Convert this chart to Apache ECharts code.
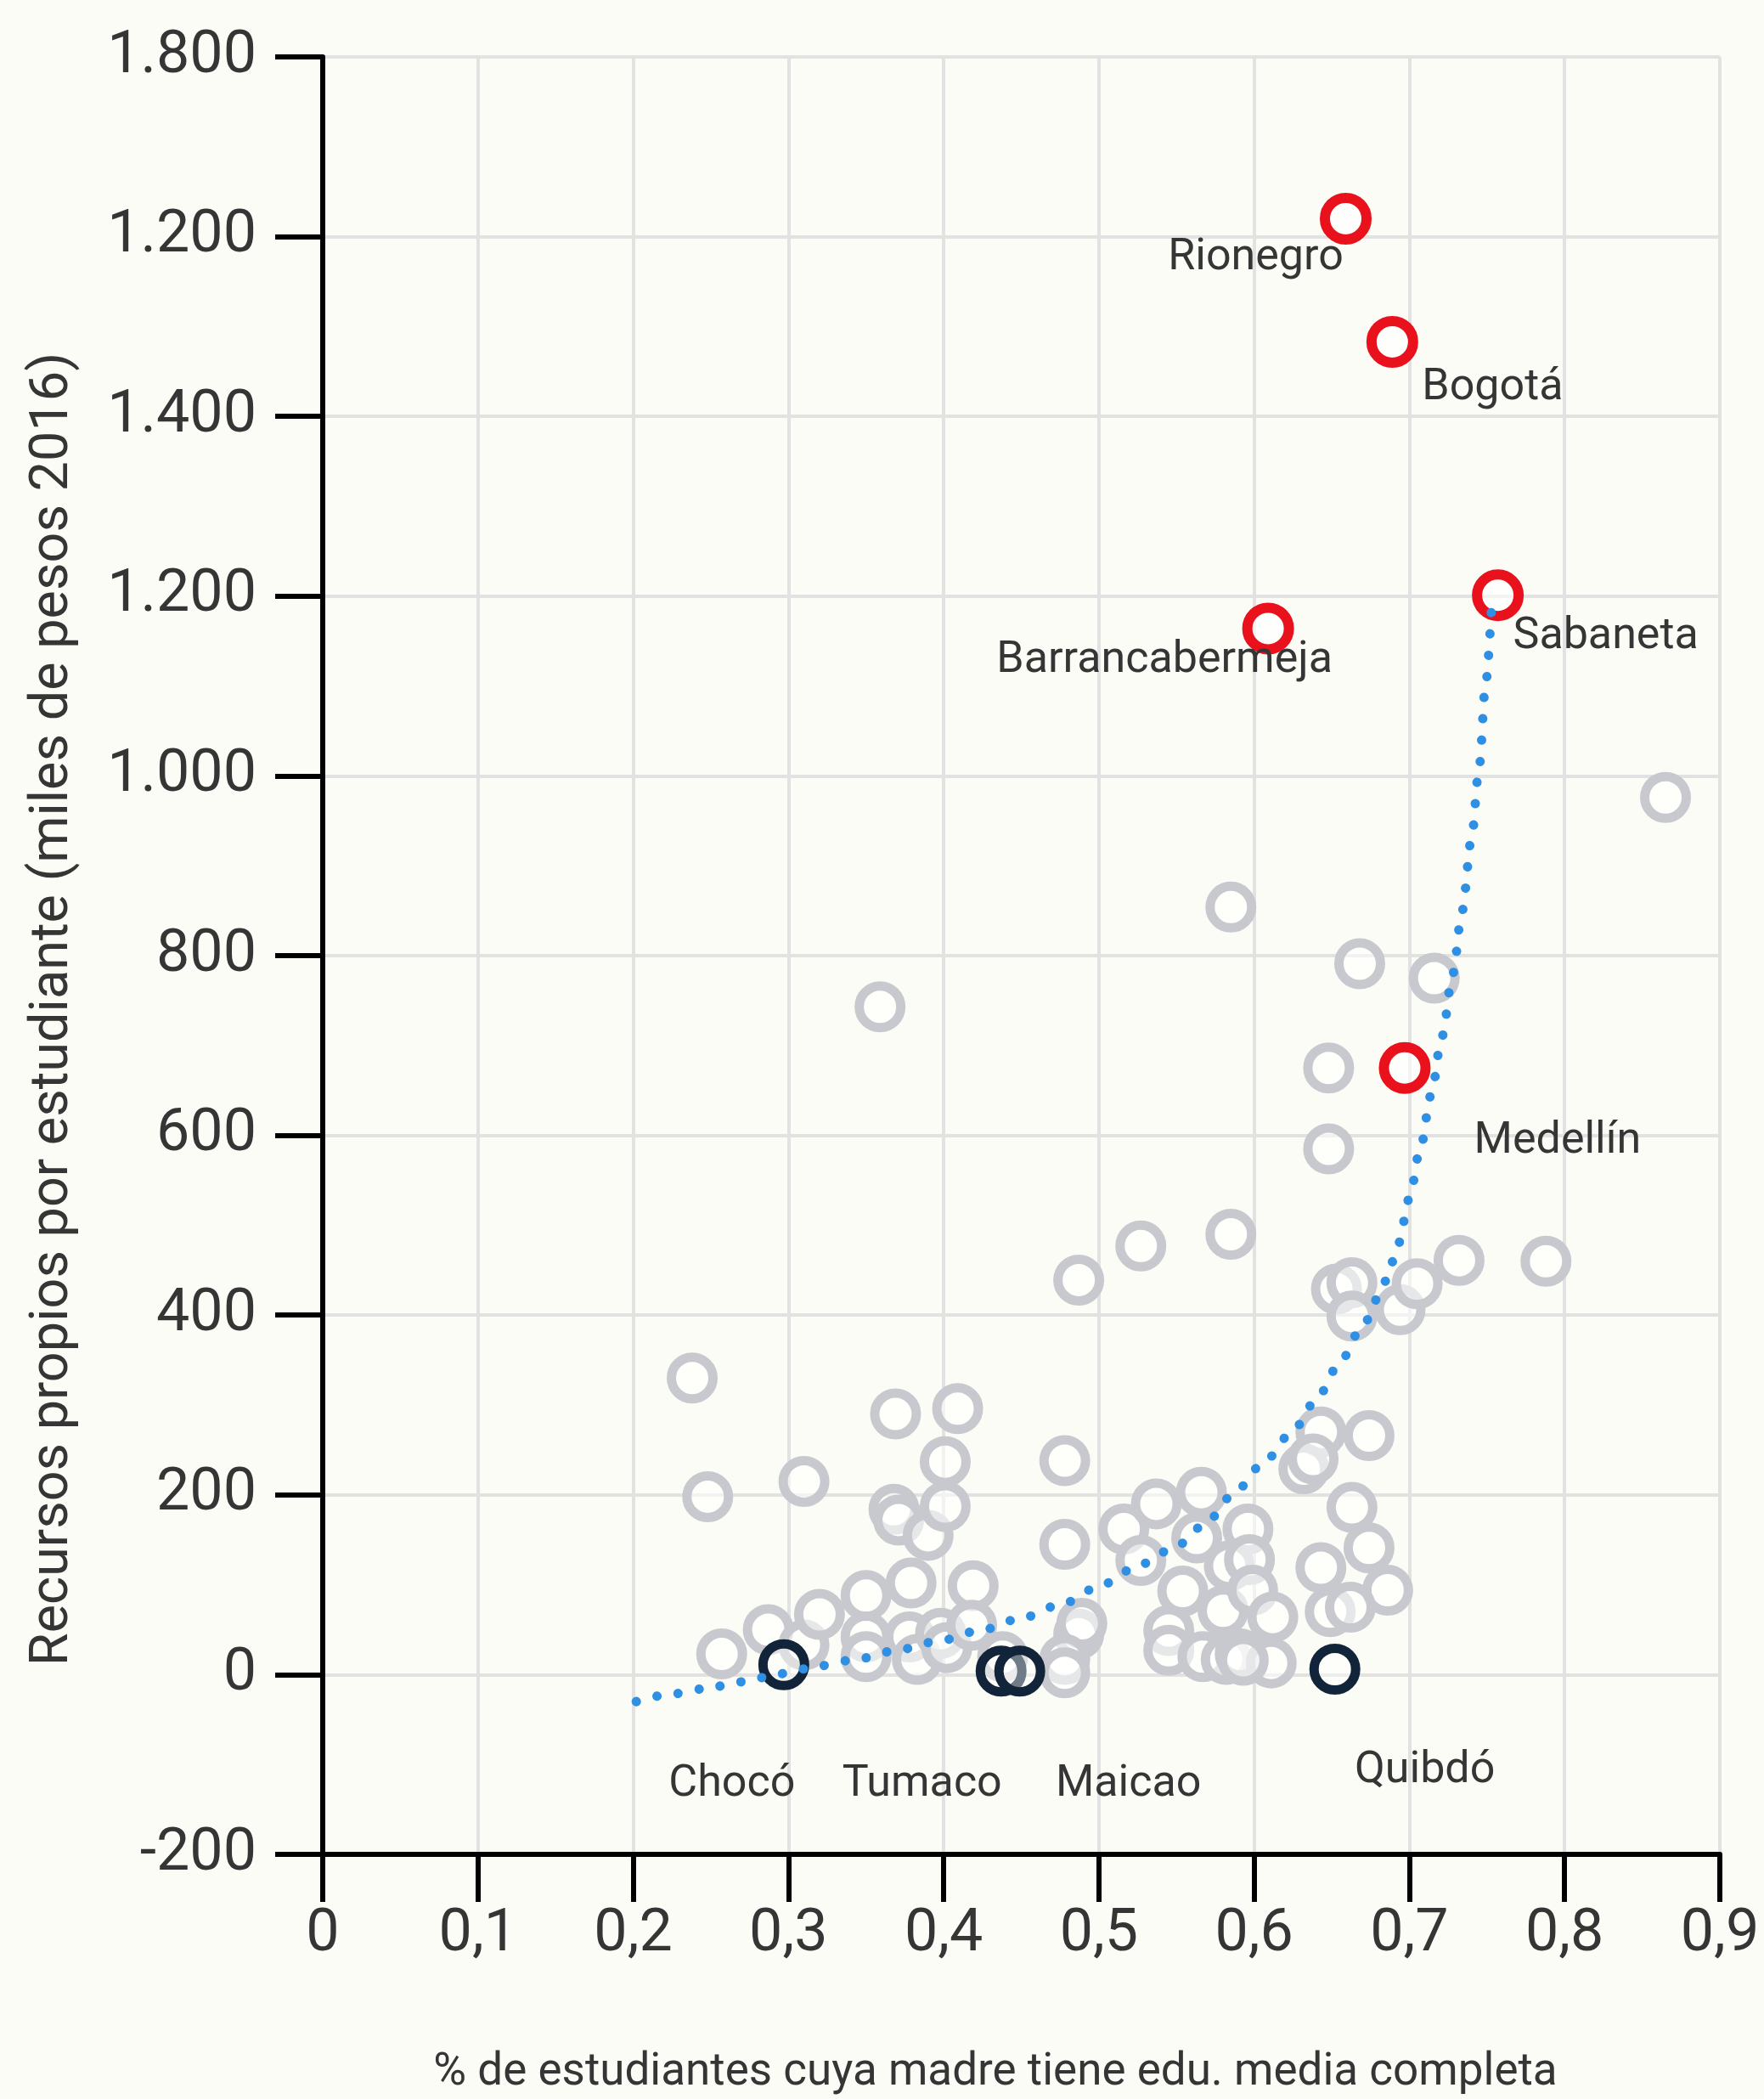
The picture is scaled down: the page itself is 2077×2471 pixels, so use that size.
<!DOCTYPE html>
<html>
<head>
<meta charset="utf-8">
<script src="https://cdn.jsdelivr.net/npm/echarts@6/dist/echarts.min.js"></script>
<style>
html,body{margin:0;padding:0;background:#fcfcf7;}
#chart{width:2077px;height:2471px;}
</style>
</head>
<body>
<div id="chart"></div>
<script>
// ---------- DATA ----------
const xTickLabels = ['0','0,1','0,2','0,3','0,4','0,5','0,6','0,7','0,8','0,9'];
const yTickLabels = ['-200','0','200','400','600','800','1.000','1.200','1.400','1.200','1.800'];

const grayPoints = [
  [0.238,330],[0.248,198],[0.257,23],[0.287,50],[0.310,33],[0.310,215],[0.320,67],
  [0.350,88],[0.350,42],[0.350,20],[0.359,743],[0.369,290],[0.368,184],[0.371,172],
  [0.390,155],[0.379,102],[0.378,42],[0.383,17],[0.398,46],[0.401,237],[0.401,187],
  [0.409,296],[0.402,30],[0.419,99],[0.418,55],[0.438,20],[0.478,238],[0.478,145],
  [0.487,45],[0.489,57],[0.478,17],[0.478,2],[0.487,439],[0.527,477],[0.516,162],
  [0.537,190],[0.566,203],[0.527,127],[0.563,152],[0.596,162],[0.584,121],[0.554,93],
  [0.580,71],[0.545,49],[0.545,27],[0.567,20],[0.582,17],[0.591,23],[0.585,490],
  [0.585,854],[0.653,429],[0.663,436],[0.663,399],[0.694,406],[0.705,435],[0.732,461],
  [0.788,460],[0.643,270],[0.632,229],[0.638,240],[0.674,266],[0.663,186],[0.643,119],
  [0.674,141],[0.686,94],[0.649,70],[0.662,75],[0.597,128],[0.599,94],[0.612,64],
  [0.611,13],[0.593,16],[0.648,675],[0.648,585],[0.668,791],[0.716,775],[0.865,976]
];

const highNames = ['Rionegro','Bogotá','Sabaneta','Barrancabermeja','Medellín'];
const highX = [0.659,0.689,0.757,0.609,0.697];
const highY = [1620,1483,1201,1164,675];

const lowNames = ['Chocó','Tumaco','Maicao','Quibdó'];
const lowX = [0.297,0.437,0.449,0.652];
const lowY = [11,4,4,6];

const trendX = [0.202,0.220,0.245,0.270,0.295,0.321,0.346,0.372,0.398,0.425,0.452,0.478,0.503,0.527,0.553,0.571,0.589,0.608,0.627,0.642,0.656,0.671,0.685,0.693,0.700,0.707,0.714,0.721,0.728,0.734,0.740,0.745,0.749,0.753];
const trendY = [-30,-23,-16,-8,1,10,18,28,38,50,64,80,101,123,146,173,206,240,276,312,350,392,438,480,530,585,645,710,780,850,930,1010,1100,1190];

const xTitle = '% de estudiantes cuya madre tiene edu. media completa';
const yTitle = 'Recursos propios por estudiante (miles de pesos 2016)';

// ---------- STYLE / LAYOUT ----------
const labelOffsets = {
  'Rionegro':[-106,47], 'Bogotá':[118,55], 'Sabaneta':[127,49],
  'Barrancabermeja':[-122,38], 'Medellín':[180,87],
  'Chocó':[-61,141], 'Tumaco':[-93,134], 'Maicao':[128,134], 'Quibdó':[106,120]
};
const FONT = 'Roboto';
const TEXT = '#353535';

function labelled(names, xs, ys) {
  return names.map((n, i) => ({
    name: n,
    value: [xs[i], ys[i]],
    label: {
      show: true, formatter: n, position: 'inside', offset: labelOffsets[n],
      align: 'center', verticalAlign: 'middle',
      fontFamily: FONT, fontSize: 52, color: TEXT
    }
  }));
}

const chart = echarts.init(document.getElementById('chart'), null, {renderer: 'canvas'});
chart.setOption({
  animation: false,
  backgroundColor: '#fcfcf7',
  grid: {left: 380, right: 52, top: 67, bottom: 288},
  xAxis: {
    type: 'value', min: 0, max: 0.9, interval: 0.1,
    axisLine: {onZero: false, lineStyle: {color: '#000', width: 6}},
    axisTick: {length: 56, lineStyle: {color: '#000', width: 6}},
    axisLabel: {
      margin: 60, fontSize: 70, fontFamily: FONT, color: TEXT,
      formatter: v => xTickLabels[Math.round(v * 10)]
    },
    splitLine: {show: true, lineStyle: {color: '#e2e2e2', width: 4}}
  },
  yAxis: {
    type: 'value', min: -200, max: 1800, interval: 200,
    axisLine: {onZero: false, lineStyle: {color: '#000', width: 6}},
    axisTick: {length: 56, lineStyle: {color: '#000', width: 6}},
    axisLabel: {
      margin: 78, fontSize: 70, fontFamily: FONT, color: TEXT, padding: [0, 0, 10, 0],
      formatter: v => yTickLabels[Math.round((v + 200) / 200)]
    },
    splitLine: {show: true, lineStyle: {color: '#e2e2e2', width: 4}}
  },
  graphic: [
    {type: 'text', x: 63, y: 1188, rotation: Math.PI / 2,
     style: {text: yTitle, font: '63px Roboto', fill: TEXT, textAlign: 'center', textVerticalAlign: 'middle'}},
    {type: 'text', x: 1172, y: 2441,
     style: {text: xTitle, font: '53px Roboto', fill: TEXT, textAlign: 'center', textVerticalAlign: 'middle'}}
  ],
  series: [
    {
      type: 'scatter', z: 2, symbol: 'circle', symbolSize: 49,
      itemStyle: {color: 'rgba(255,255,255,0.55)', borderColor: '#c8c9ce', borderWidth: 11, opacity: 1},
      data: grayPoints
    },
    {
      type: 'scatter', z: 3, symbol: 'circle', symbolSize: 49,
      itemStyle: {color: 'rgba(255,255,255,0.4)', borderColor: '#12243a', borderWidth: 11, opacity: 1},
      data: labelled(lowNames, lowX, lowY)
    },
    {
      type: 'scatter', z: 4, symbol: 'circle', symbolSize: 49,
      itemStyle: {color: 'rgba(255,255,255,0.6)', borderColor: '#e8111c', borderWidth: 12, opacity: 1},
      data: labelled(highNames, highX, highY)
    },
    {
      type: 'line', z: 5, showSymbol: false, smooth: 0.3, smoothMonotone: 'x', silent: true,
      lineStyle: {color: '#2f8fe3', width: 11, type: [0.1, 25], cap: 'round'},
      data: trendX.map((x, i) => [x, trendY[i]])
    }
  ]
});
</script>
</body>
</html>
